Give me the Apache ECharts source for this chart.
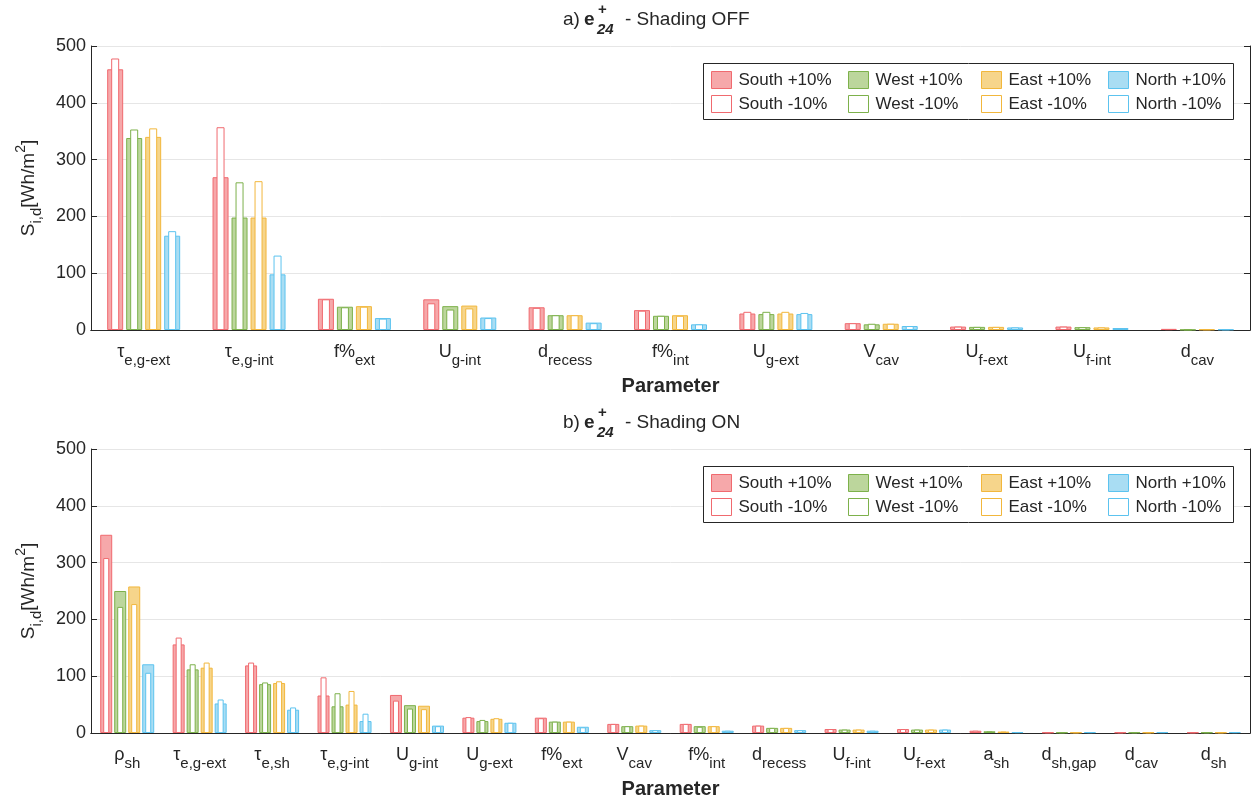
<!DOCTYPE html>
<html>
<head>
<meta charset="utf-8">
<script src="https://cdn.jsdelivr.net/npm/echarts@6.0.0/dist/echarts.min.js"></script>
<style>
  html, body { margin: 0; padding: 0; background: #fff; }
  #main { width: 1253px; height: 803px; }
</style>
</head>
<body>
<div id="main"></div>
<script>
// categories (text after "_" is a subscript)
const catsA = ["τ_e,g-ext", "τ_e,g-int", "f%_ext", "U_g-int", "d_recess", "f%_int", "U_g-ext", "V_cav", "U_f-ext", "U_f-int", "d_cav"];
const catsB = ["ρ_sh", "τ_e,g-ext", "τ_e,sh", "τ_e,g-int", "U_g-int", "U_g-ext", "f%_ext", "V_cav", "f%_int", "d_recess", "U_f-int", "U_f-ext", "a_sh", "d_sh,gap", "d_cav", "d_sh"];

// a) shading OFF
const southPlusA  = [459, 269, 55, 54, 40, 35, 29, 12, 6, 6, 2];
const southMinusA = [478, 357, 54, 47, 39, 34, 32, 12, 6, 6, 1.5];
const westPlusA   = [338, 198, 41, 42, 26, 25, 28, 10, 5.5, 5, 0.5];
const westMinusA  = [353, 260, 40, 36, 26, 25, 32, 11, 5.5, 5, 0.5];
const eastPlusA   = [340, 198, 42, 43, 26, 26, 29, 11, 5.5, 4.5, 1];
const eastMinusA  = [355, 262, 41, 38, 26, 25, 32, 11, 5.5, 4.5, 1];
const northPlusA  = [166, 98, 21, 22, 13, 10, 28, 7, 4.5, 3.5, 1];
const northMinusA = [174, 131, 20, 21, 12, 10, 30, 7, 4.5, 3.5, 1];

// b) shading ON
const southPlusB  = [349, 156, 119, 66, 67, 27, 27, 16, 16, 13, 7, 7, 4, 1, 1, 1];
const southMinusB = [308, 168, 124, 98, 57, 28, 26, 16, 16, 13, 7, 7, 4, 1, 1, 1];
const westPlusB   = [250, 112, 86, 47, 49, 21, 20, 12, 12, 9, 6, 6, 3, 1, 1, 1];
const westMinusB  = [222, 121, 89, 70, 43, 23, 20, 12, 11, 9, 6, 6, 3, 1, 1, 1];
const eastPlusB   = [258, 115, 88, 50, 48, 25, 20, 13, 12, 9, 6, 6, 2.5, 1, 1, 1];
const eastMinusB  = [227, 124, 91, 74, 42, 26, 20, 13, 12, 9, 6, 6, 2.5, 1, 1, 1];
const northPlusB  = [121, 52, 41, 21, 13, 18, 11, 5, 4, 5, 4, 6, 1.5, 1.5, 1.5, 1.5];
const northMinusB = [106, 59, 45, 34, 12, 18, 10, 5, 4, 5, 4, 6, 1.5, 1.5, 1.5, 1.5];

const yTicks = [0, 100, 200, 300, 400, 500];

const dirs = ["South", "West", "East", "North"];
const edge = { South: "#f06a6f", West: "#7db14b", East: "#f2b73c", North: "#5cc3ef" };
const fill = { South: "#f6a8aa", West: "#bcd69c", East: "#f6d58b", North: "#a9ddf3" };

const ink = "#262626";
const FONT = "Liberation Sans";

const chart = echarts.init(document.getElementById("main"), null, { renderer: "canvas" });

function catLabel(s) {
  const i = s.indexOf("_");
  if (i < 0) return "{b|" + s + "}";
  return "{b|" + s.slice(0, i) + "}{s|" + s.slice(i + 1) + "}";
}

const catRich = {
  b: { fontFamily: FONT, fontSize: 18, color: ink, padding: [0, 0, 9, 0] },
  s: { fontFamily: FONT, fontSize: 15, color: ink, padding: [9, 0, 0, 0] }
};

const yNameRich = {
  n: { fontFamily: FONT, fontSize: 19, color: ink },
  ns: { fontFamily: FONT, fontSize: 15, color: ink, padding: [16, 0, 0, 0] },
  np: { fontFamily: FONT, fontSize: 14, color: ink, padding: [0, 0, 14, 0] }
};

const panels = [
  { cats: catsA, top: 46, wide: 16, thin: 8, step: 19,
    data: { South: [southPlusA, southMinusA], West: [westPlusA, westMinusA], East: [eastPlusA, eastMinusA], North: [northPlusA, northMinusA] },
    title: "Shading OFF", tag: "a)" },
  { cats: catsB, top: 449, wide: 12, thin: 6, step: 14,
    data: { South: [southPlusB, southMinusB], West: [westPlusB, westMinusB], East: [eastPlusB, eastMinusB], North: [northPlusB, northMinusB] },
    title: "Shading ON", tag: "b)" }
];

const grid = [], xAxis = [], yAxis = [], series = [], legend = [], graphic = [];

panels.forEach((p, k) => {
  grid.push({ left: 91, top: p.top, width: 1159, height: 284 });

  xAxis.push({
    type: "category", gridIndex: k, data: p.cats,
    axisLine: { lineStyle: { color: ink, width: 1 } },
    axisTick: { show: false },
    axisLabel: { interval: 0, margin: 13, formatter: catLabel, rich: catRich },
    name: "Parameter", nameLocation: "middle", nameGap: 46,
    nameTextStyle: { fontFamily: FONT, fontSize: 20, fontWeight: "bold", color: ink }
  });
  xAxis.push({
    type: "category", gridIndex: k, data: p.cats, position: "top",
    axisLine: { lineStyle: { color: ink, width: 1 } },
    axisTick: { show: false }, axisLabel: { show: false }
  });

  yAxis.push({
    type: "value", gridIndex: k, min: 0, max: 500, interval: 100, position: "left",
    axisLine: { show: true, lineStyle: { color: ink, width: 1 } },
    axisTick: { show: true, inside: true, length: 6, lineStyle: { color: ink } },
    axisLabel: { fontFamily: FONT, fontSize: 18, color: ink, margin: 5,
      formatter: v => (yTicks.indexOf(v) >= 0 ? String(v) : "") },
    splitLine: { show: true, lineStyle: { color: "#e6e6e6", width: 1 } },
    name: "{n|S}{ns|i,d}{n|[Wh/m}{np|2}{n|]}",
    nameLocation: "middle", nameGap: 47, nameRotate: 90,
    nameTextStyle: { rich: yNameRich }
  });
  yAxis.push({
    type: "value", gridIndex: k, min: 0, max: 500, interval: 100, position: "right",
    axisLine: { show: true, lineStyle: { color: ink, width: 1 } },
    axisTick: { show: true, inside: true, length: 6, lineStyle: { color: ink } },
    axisLabel: { show: false }, splitLine: { show: false }
  });

  dirs.forEach(d => {
    series.push({
      name: d + " +10%", type: "bar", xAxisIndex: 2 * k, yAxisIndex: 2 * k,
      data: p.data[d][0], barWidth: p.wide,
      barGap: ((p.step - p.wide) / p.wide * 100).toFixed(2) + "%",
      itemStyle: { color: fill[d], borderColor: edge[d], borderWidth: 1 },
      z: 2
    });
  });
  dirs.forEach(d => {
    series.push({
      name: d + " -10%", type: "bar", xAxisIndex: 2 * k + 1, yAxisIndex: 2 * k,
      data: p.data[d][1], barWidth: p.thin,
      barGap: ((p.step - p.thin) / p.thin * 100).toFixed(2) + "%",
      itemStyle: { color: "#ffffff", borderColor: edge[d], borderWidth: 1 },
      z: 3
    });
  });

  // legend: one column per direction
  const lx = [711, 848, 981, 1108];
  const ly = p.top + 25;
  dirs.forEach((d, i) => {
    legend.push({
      orient: "vertical", left: lx[i], top: ly, padding: 0,
      itemWidth: 20, itemHeight: 17, itemGap: 6, icon: "rect",
      selectedMode: false, z: 6,
      textStyle: { fontFamily: FONT, fontSize: 17, color: ink, padding: [0, 0, 0, 2] },
      data: [
        { name: d + " +10%", itemStyle: { color: fill[d], borderColor: edge[d], borderWidth: 1 } },
        { name: d + " -10%", itemStyle: { color: "#ffffff", borderColor: edge[d], borderWidth: 1 } }
      ]
    });
  });
  graphic.push({
    type: "rect", z: 5,
    shape: { x: 703.5, y: p.top + 17.5, width: 530, height: 56 },
    style: { fill: "#ffffff", stroke: ink, lineWidth: 1 }
  });

  // panel title
  const ty = p.top - 26;
  const tf = (sz, w, st) => (st || "normal") + " " + (w || "normal") + " " + sz + "px " + FONT;
  graphic.push({
    type: "group", z: 5,
    children: [
      { type: "text", x: 563, y: ty, style: { text: p.tag, font: tf(19), fill: ink, verticalAlign: "middle" } },
      { type: "text", x: 584, y: ty, style: { text: "e", font: tf(19, "bold"), fill: ink, verticalAlign: "middle" } },
      { type: "text", x: 598, y: ty - 10, style: { text: "+", font: tf(15, "bold"), fill: ink, verticalAlign: "middle" } },
      { type: "text", x: 597, y: ty + 10, style: { text: "24", font: tf(15, "bold", "italic"), fill: ink, verticalAlign: "middle" } },
      { type: "text", x: 625, y: ty, style: { text: "- " + p.title, font: tf(19), fill: ink, verticalAlign: "middle" } }
    ]
  });
});

chart.setOption({
  animation: false,
  backgroundColor: "#ffffff",
  textStyle: { fontFamily: FONT },
  grid, xAxis, yAxis, series, legend, graphic
});
</script>
</body>
</html>
